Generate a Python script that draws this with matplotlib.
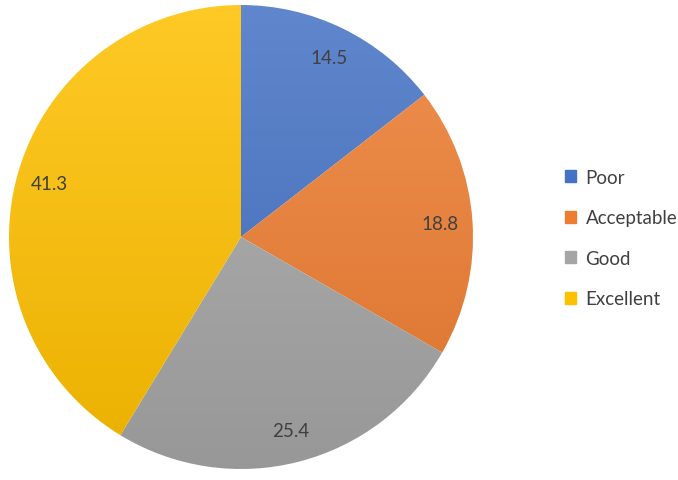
import numpy as np
import matplotlib.pyplot as plt
from matplotlib.colors import LinearSegmentedColormap, to_rgb

categories = ['Poor', 'Acceptable', 'Good', 'Excellent']
values = [14.5, 18.8, 25.4, 41.3]
colors = ['#4472C4', '#ED7D31', '#A5A5A5', '#FFC000']

plt.rcParams['font.family'] = ['Lato', 'DejaVu Sans']

fig = plt.figure(figsize=(6.78, 4.81), dpi=100)
ax = fig.add_axes([9 / 678, 11 / 481, 464 / 678, 464 / 481])

wedges, texts, autotexts = ax.pie(values, colors=colors, startangle=90, counterclock=False,
                                  autopct='%.1f', pctdistance=0.86,
                                  textprops={'fontsize': 13.5, 'color': '#404040'},
                                  wedgeprops={'linewidth': 0})

# vertical gradient, lighter at the top like the office style
grad = np.linspace(0, 1, 256).reshape(-1, 1)
for w, c in zip(wedges, colors):
    r, g, b = to_rgb(c)
    light = tuple(min(1, v + (1 - v) * 0.15) for v in (r, g, b))
    dark = tuple(v * 0.92 for v in (r, g, b))
    cmap = LinearSegmentedColormap.from_list('g', [dark, light])
    im = ax.imshow(grad, cmap=cmap, extent=[-1, 1, -1, 1], origin='lower', aspect='auto', zorder=0.5)
    im.set_clip_path(w)
    w.set_facecolor('none')

ax.set_xlim(-1, 1)
ax.set_ylim(-1, 1)
ax.set_aspect('equal')
ax.axis('off')

handles = [plt.Rectangle((0, 0), 1, 1, color=c) for c in colors]
fig.legend(handles, categories, loc='center left', bbox_to_anchor=(565 / 678, 1 - 239 / 481),
           frameon=False, fontsize=13.5, labelcolor='#404040', handlelength=0.6, handleheight=0.6,
           handletextpad=0.5, labelspacing=1.25, borderpad=0, borderaxespad=0)

fig.savefig('out.png', dpi=100)
